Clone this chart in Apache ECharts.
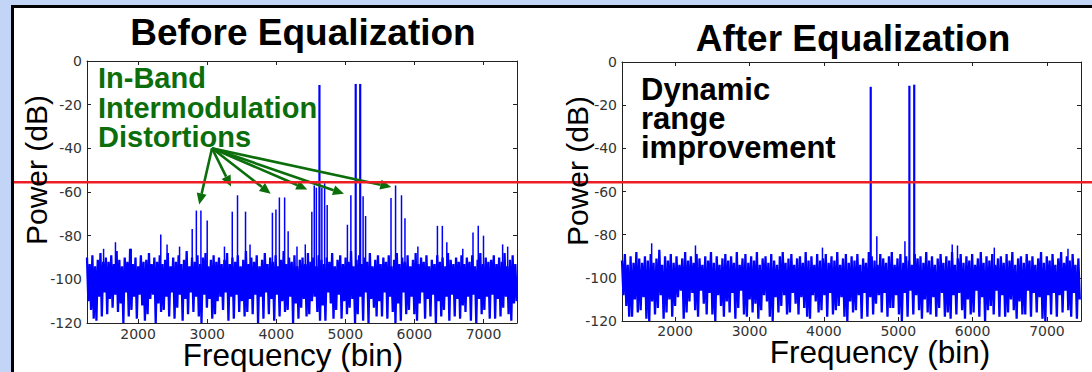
<!DOCTYPE html>
<html><head><meta charset="utf-8">
<script src="https://cdn.jsdelivr.net/npm/echarts@6/dist/echarts.min.js"></script>
<style>
html,body{margin:0;padding:0;background:#c3d5f7;overflow:hidden}
#frame{position:absolute;left:11px;top:5px;width:1100px;height:400px;background:#fff;border-left:3px solid #000;border-top:3px solid #000}
#c{position:absolute;left:0;top:0;width:1092px;height:372px}
</style>
</head><body><div id="frame"></div><div id="c"></div>
<script>
// ---- axis ticks ----
const xTicks = [2000, 3000, 4000, 5000, 6000, 7000];
const leftRange = [1260, 7485];
const rightRange = [1285, 7458];
const yMin = -120, yMax = 0, yStep = 20;

// ---- noise floor (dB), evenly spaced bins ----
const leftNoiseStart = 1260, leftNoiseStep = 19.5;
const leftNoise = [
-90,-110,-93,-114,-89,-118,-94,-119,-91,-108,-88,-117,-92,-106,-90,-116,-92,-109,-89,-113,
-93,-107,-87,-115,-91,-111,-94,-120,-90,-106,-92,-117,-86,-114,-93,-108,-90,-118,-94,-107,
-89,-112,-92,-119,-91,-116,-88,-109,-93,-107,-90,-120,-92,-111,-89,-115,-93,-114,-91,-108,
-88,-117,-94,-106,-90,-118,-92,-113,-89,-107,-93,-119,-91,-109,-87,-116,-94,-106,-90,-115,
-92,-108,-89,-117,-93,-120,-90,-107,-88,-113,-94,-109,-91,-118,-89,-116,-92,-110,-90,-108,
-93,-114,-91,-106,-88,-119,-93,-108,-90,-118,-92,-107,-89,-115,-94,-110,-91,-117,-87,-115,
-93,-109,-90,-116,-92,-107,-89,-120,-94,-108,-91,-118,-88,-106,-93,-116,-90,-109,-92,-119,
-89,-107,-94,-117,-91,-110,-87,-115,-93,-114,-90,-108,-92,-120,-89,-111,-94,-118,-91,-113,
-90,-109,-93,-117,-88,-116,-92,-110,-90,-108,-94,-115,-89,-119,-91,-112,-93,-119,-90,-106,
-92,-111,-88,-118,-94,-114,-91,-107,-89,-118,-93,-110,-90,-116,-92,-113,-87,-109,-94,-120,
-91,-116,-89,-108,-93,-119,-90,-106,-92,-120,-88,-109,-94,-113,-91,-117,-89,-110,-93,-117,
-90,-106,-92,-118,-89,-108,-94,-115,-91,-120,-88,-111,-93,-119,-90,-106,-92,-116,-89,-114,
-94,-108,-91,-116,-88,-119,-93,-111,-90,-106,-92,-118,-89,-109,-94,-117,-91,-107,-93,-120,
-89,-110,-92,-117,-90,-114,-94,-108,-88,-119,-91,-107,-93,-117,-90,-109,-92,-118,-89,-112,
-93,-115,-90,-108,-92,-119,-89,-107,-94,-120,-91,-109,-88,-116,-93,-114,-90,-108,-92,-118,
-91,-107,-89,-118,-93,-109,-90,-117,-92,-113,-88,-108,-94,-116,-91,-119,-89,-111,-93,-110
];
const rightNoiseStart = 1285, rightNoiseStep = 19.3;
const rightNoise = [
-92,-108,-89,-113,-94,-118,-90,-118,-93,-110,-88,-116,-91,-115,-93,-109,-90,-119,-92,-120,
-89,-111,-93,-117,-91,-114,-87,-108,-94,-119,-90,-116,-92,-110,-89,-118,-93,-113,-90,-109,
-94,-106,-91,-119,-88,-116,-92,-111,-90,-107,-93,-115,-89,-118,-91,-106,-94,-112,-90,-117,
-92,-107,-88,-117,-93,-120,-90,-108,-94,-113,-91,-118,-89,-111,-92,-116,-90,-107,-93,-119,
-88,-114,-94,-106,-91,-117,-89,-118,-93,-110,-90,-116,-92,-112,-88,-119,-94,-115,-91,-108,
-90,-111,-93,-118,-89,-120,-92,-109,-94,-116,-90,-113,-88,-108,-93,-117,-91,-116,-89,-107,
-94,-112,-91,-117,-90,-109,-93,-114,-88,-118,-92,-119,-90,-108,-94,-111,-89,-116,-92,-115,
-91,-108,-89,-118,-93,-107,-90,-117,-92,-115,-88,-113,-94,-109,-91,-118,-89,-120,-93,-111,
-90,-116,-92,-115,-89,-108,-94,-119,-91,-107,-93,-118,-88,-109,-90,-117,-92,-112,-94,-108,
-89,-116,-91,-107,-93,-118,-90,-114,-88,-114,-94,-108,-91,-117,-89,-120,-93,-107,-90,-118,
-92,-106,-94,-117,-89,-108,-91,-115,-90,-119,-93,-110,-88,-116,-92,-117,-90,-109,-94,-118,
-91,-114,-89,-107,-93,-118,-90,-116,-92,-119,-88,-108,-94,-117,-91,-107,-89,-115,-93,-119,
-90,-110,-92,-117,-89,-116,-94,-106,-91,-118,-88,-109,-93,-120,-90,-115,-92,-113,-89,-117,
-94,-106,-91,-118,-90,-108,-93,-118,-89,-116,-92,-110,-88,-115,-94,-119,-91,-111,-90,-117,
-93,-117,-89,-106,-92,-118,-90,-107,-94,-116,-91,-109,-88,-119,-93,-120,-90,-108,-92,-117,
-89,-107,-94,-118,-91,-108,-88,-116,-93,-106,-90,-115,-92,-118,-89,-107,-94,-119,-91,-110
];

// ---- tones and intermodulation spurs (bin, dB) ----
const leftPeakFreq = [4625, 5150, 5215,
  4515, 4550, 4580, 4660, 4700, 4737, 5030, 5080, 5257, 5293,
  2783, 2843, 2909, 3000, 3363, 3439, 3555, 3944, 3995, 4045, 4121, 4172,
  5661, 5727, 5813, 5863,
  1672, 2328, 2419, 6333, 6404, 6469, 6848, 6924, 7000, 7277,
  1500, 1900, 2600, 3250, 3620, 4300, 4420, 6050, 6700, 7350];
const leftPeakDb = [-11, -10.5, -10.5,
  -69, -57, -58, -58, -56, -66, -75, -61.5, -62, -71,
  -77, -68.5, -68.5, -73, -69, -61.5, -69, -69.5, -68, -62.5, -62.5, -78,
  -62.8, -57, -61.5, -72,
  -83, -79.5, -84, -75.5, -75.5, -83, -78.5, -75.5, -80, -84,
  -86, -86, -85, -85, -84, -85, -84, -85, -86, -85];
const rightPeakFreq = [4630, 5150, 5215, 4712, 5090, 1684, 2273, 3981, 5726, 5797, 6292, 7283];
const rightPeakDb = [-11.5, -11, -10.5, -80.7, -83, -84, -85, -86, -84.5, -85, -86, -86.5];

// ---- annotation data ----
const thresholdDb = -55.5;
const arrowFrom = [3070, -40];
const arrowToFreq = [2884, 3345, 3919, 4449, 4980, 5665];
const arrowToDb = [-65.7, -57.5, -60.8, -58.8, -60.8, -57.7];

// ================= build =================
const BLUE = '#0000ff', GREEN = '#0b6e0b', RED = '#ee1c25';
const FONT = 'Liberation Sans, Arial, sans-serif';
const TICKFONT = 'DejaVu Sans, sans-serif';
const plain = v => String(v);

function xAxisPair(gi, range, bottomMargin) {
  return [
    {type:'value', gridIndex:gi, position:'bottom', min:range[0], max:range[1],
     axisLine:{show:true, onZero:false, lineStyle:{color:'#222', width:1}},
     axisTick:{show:true, inside:true, length:4, customValues:xTicks, lineStyle:{color:'#222'}},
     axisLabel:{show:true, customValues:xTicks, formatter:plain, margin:bottomMargin, color:'#333', fontSize:14, fontFamily:TICKFONT},
     splitLine:{show:false}},
    {type:'value', gridIndex:gi, position:'top', min:range[0], max:range[1],
     axisLine:{show:true, onZero:false, lineStyle:{color:'#222', width:1}},
     axisTick:{show:true, inside:true, length:4, customValues:xTicks, lineStyle:{color:'#222'}},
     axisLabel:{show:false}, splitLine:{show:false}}
  ];
}
function yAxisPair(gi) {
  return [
    {type:'value', gridIndex:gi, position:'left', min:yMin, max:yMax, interval:yStep,
     axisLine:{show:true, onZero:false, lineStyle:{color:'#222', width:1}},
     axisTick:{show:true, inside:true, length:4, lineStyle:{color:'#222'}},
     axisLabel:{show:true, formatter:plain, margin:5, color:'#333', fontSize:14, fontFamily:TICKFONT},
     splitLine:{show:false}},
    {type:'value', gridIndex:gi, position:'right', min:yMin, max:yMax, interval:yStep,
     axisLine:{show:true, onZero:false, lineStyle:{color:'#222', width:1}},
     axisTick:{show:true, inside:true, length:4, lineStyle:{color:'#222'}},
     axisLabel:{show:false}, splitLine:{show:false}}
  ];
}

function noiseData(start, step, vals) { return vals.map((v, i) => [start + i * step, v]); }
function peakData(fs, ds) { return fs.map((f, i) => [f, ds[i]]); }

function peakRender(params, api) {
  const top = api.coord([api.value(0), api.value(1)]);
  const bot = api.coord([api.value(0), -100]);
  const w = api.value(1) > -30 ? 2.2 : 1.5;
  return {type:'line', shape:{x1:top[0], y1:top[1], x2:bot[0], y2:bot[1]}, style:{stroke:BLUE, lineWidth:w}};
}
function arrowRender(params, api) {
  const p0 = api.coord([api.value(0), api.value(1)]);
  const p1 = api.coord([api.value(2), api.value(3)]);
  const dx = p1[0] - p0[0], dy = p1[1] - p0[1], L = Math.hypot(dx, dy);
  const ux = dx / L, uy = dy / L, hl = 11, hw = 5;
  const bx = p1[0] - ux * hl, by = p1[1] - uy * hl;
  return {type:'group', children:[
    {type:'line', shape:{x1:p0[0], y1:p0[1], x2:bx, y2:by}, style:{stroke:GREEN, lineWidth:2.6}},
    {type:'polygon', shape:{points:[[p1[0], p1[1]], [bx - uy * hw, by + ux * hw], [bx + uy * hw, by - ux * hw]]}, style:{fill:GREEN}}
  ]};
}

const lx = xAxisPair(0, leftRange, 4), rx = xAxisPair(1, rightRange, 3);
const ly = yAxisPair(0), ry = yAxisPair(1);

function txt(text, x, y, size, opts) {
  opts = opts || {};
  const el = {type:'text', x:x, y:y, z:50, style:{text:text, font:(opts.bold ? 'bold ' : '') + size + 'px ' + FONT,
    fill:opts.color || '#000', align:opts.align || 'left', verticalAlign:'middle'}};
  if (opts.rotation) el.rotation = opts.rotation;
  return el;
}

const option = {
  animation:false,
  backgroundColor:'transparent',
  grid:[
    {left:87, top:61, width:430, height:262, show:false},
    {left:622, top:62, width:459, height:259, show:false},
    {left:14, top:61, width:1078, height:262, show:false}
  ],
  xAxis:[lx[0], lx[1], rx[0], rx[1],
    {type:'value', gridIndex:2, min:0, max:1, show:false}],
  yAxis:[ly[0], ly[1], ry[0], ry[1],
    {type:'value', gridIndex:2, min:yMin, max:yMax, show:false}],
  series:[
    {type:'line', xAxisIndex:0, yAxisIndex:0, data:noiseData(leftNoiseStart, leftNoiseStep, leftNoise),
     symbol:'none', sampling:null, lineStyle:{color:BLUE, width:2.3}, z:2},
    {type:'custom', xAxisIndex:0, yAxisIndex:0, data:peakData(leftPeakFreq, leftPeakDb), renderItem:peakRender, encode:{x:0, y:1}, z:3},
    {type:'line', xAxisIndex:2, yAxisIndex:2, data:noiseData(rightNoiseStart, rightNoiseStep, rightNoise),
     symbol:'none', sampling:null, lineStyle:{color:BLUE, width:2.3}, z:2},
    {type:'custom', xAxisIndex:2, yAxisIndex:2, data:peakData(rightPeakFreq, rightPeakDb), renderItem:peakRender, encode:{x:0, y:1}, z:3},
    {type:'custom', xAxisIndex:0, yAxisIndex:0, clip:false,
     data:arrowToFreq.map((f, i) => [arrowFrom[0], arrowFrom[1], f, arrowToDb[i]]),
     renderItem:arrowRender, encode:{x:[0, 2], y:[1, 3]}, z:8},
    {type:'line', xAxisIndex:4, yAxisIndex:4, data:[[0, thresholdDb], [1, thresholdDb]],
     symbol:'none', lineStyle:{color:RED, width:2.4}, z:20}
  ],
  graphic:[
    txt('Before Equalization', 303, 32, 37, {bold:true, align:'center'}),
    txt('After Equalization', 853, 38, 37, {bold:true, align:'center'}),
    txt('In-Band', 98, 78, 29, {bold:true, color:GREEN}),
    txt('Intermodulation', 98, 108, 29, {bold:true, color:GREEN}),
    txt('Distortions', 98, 137, 29, {bold:true, color:GREEN}),
    txt('Dynamic', 641, 89, 31, {bold:true}),
    txt('range', 641, 118, 31, {bold:true}),
    txt('improvement', 641, 147, 31, {bold:true}),
    txt('Power (dB)', 36, 170, 30, {align:'center', rotation:Math.PI / 2}),
    txt('Power (dB)', 577, 171, 30, {align:'center', rotation:Math.PI / 2}),
    txt('Frequency (bin)', 293, 355, 31.5, {align:'center'}),
    txt('Frequency (bin)', 880, 352, 31.5, {align:'center'})
  ]
};
const chart = echarts.init(document.getElementById('c'), null, {renderer:'svg'});
chart.setOption(option);
</script>
</body></html>
